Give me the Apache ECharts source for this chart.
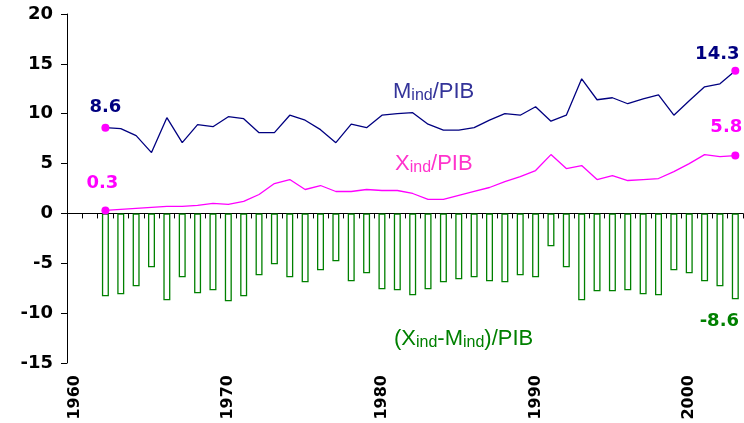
<!DOCTYPE html>
<html>
<head>
<meta charset="utf-8">
<script src="https://cdn.jsdelivr.net/npm/echarts@6/dist/echarts.min.js"></script>
<style>
  html, body { margin: 0; padding: 0; background: #ffffff; }
  #chart { width: 744px; height: 423px; }
</style>
</head>
<body>
<div id="chart"></div>
<script>
// Years on the category axis
const years = [
  '1960', '1961', '1962', '1963', '1964', '1965', '1966', '1967', '1968', '1969',
  '1970', '1971', '1972', '1973', '1974', '1975', '1976', '1977', '1978', '1979',
  '1980', '1981', '1982', '1983', '1984', '1985', '1986', '1987', '1988', '1989',
  '1990', '1991', '1992', '1993', '1994', '1995', '1996', '1997', '1998', '1999',
  '2000', '2001', '2002', '2003'
];

// Industrial imports / GDP (%), 1962-2003
const importsShare = [
  null, null,
  8.6, 8.5, 7.8, 6.1, 9.6, 7.1, 8.9, 8.7, 9.7, 9.5,
  8.1, 8.1, 9.85, 9.35, 8.4, 7.1, 8.95, 8.6, 9.85, 10.0,
  10.1, 8.95, 8.35, 8.35, 8.6, 9.35, 10.0, 9.85, 10.7, 9.25,
  9.85, 13.5, 11.4, 11.6, 11.0, 11.5, 11.9, 9.85, 11.3, 12.7,
  13.0, 14.3
];

// Industrial exports / GDP (%), 1962-2003
const exportsShare = [
  null, null,
  0.3, 0.4, 0.5, 0.6, 0.7, 0.7, 0.8, 1.0, 0.9, 1.2,
  1.9, 3.0, 3.4, 2.4, 2.8, 2.2, 2.2, 2.4, 2.3, 2.3,
  2.0, 1.4, 1.4, 1.8, 2.2, 2.6, 3.2, 3.7, 4.3, 5.9,
  4.5, 4.8, 3.4, 3.8, 3.3, 3.4, 3.5, 4.2, 5.0, 5.9,
  5.7, 5.8
];

// Industrial trade balance / GDP (%), 1962-2003
const balanceShare = [
  null, null,
  -8.3, -8.1, -7.3, -5.4, -8.7, -6.4, -8.0, -7.7, -8.8, -8.3,
  -6.2, -5.1, -6.4, -6.9, -5.7, -4.8, -6.8, -6.0, -7.6, -7.7,
  -8.2, -7.6, -6.9, -6.6, -6.4, -6.8, -6.9, -6.2, -6.4, -3.3,
  -5.4, -8.7, -7.8, -7.8, -7.7, -8.1, -8.2, -5.7, -6.0, -6.8,
  -7.3, -8.6
];

// Value axis ticks
const yMin = -15, yMax = 20, yStep = 5;

const NAVY = '#000080';
const MAGENTA = '#FF00FF';
const GREEN = '#008000';
const labelFont = { fontFamily: 'DejaVu Sans', fontWeight: 'bold', fontSize: 18 };

// Mark the first and last observation of a line with a dot and its value
function endpointData(values, color, firstLabel, lastLabel) {
  const first = values.findIndex(v => v != null);
  const last = values.length - 1;
  return values.map((v, i) => {
    if (i === first || i === last) {
      const cfg = i === first ? firstLabel : lastLabel;
      return {
        value: v,
        symbolSize: 8,
        label: Object.assign({
          show: true,
          position: 'top',
          color: color,
          formatter: p => p.value.toFixed(1)
        }, labelFont, cfg)
      };
    }
    return { value: v, symbolSize: 0 };
  });
}

// Only the last bar carries a value label
const balanceData = balanceShare.map((v, i) => {
  if (i === balanceShare.length - 1) {
    return {
      value: v,
      label: Object.assign({
        show: true,
        position: 'bottom',
        distance: 13,
        offset: [-16, 0],
        color: GREEN,
        formatter: p => p.value.toFixed(1)
      }, labelFont)
    };
  }
  return v;
});

// Rich-text name with an "ind" subscript
function subRich(color) {
  return {
    m: { fontFamily: 'Liberation Sans', fontSize: 22, lineHeight: 24, fill: color, color: color },
    s: { fontFamily: 'Liberation Sans', fontSize: 16, lineHeight: 8, verticalAlign: 'bottom', fill: color, color: color }
  };
}

const chart = echarts.init(document.getElementById('chart'), null, { renderer: 'canvas' });

chart.setOption({
  animation: false,
  backgroundColor: '#ffffff',
  grid: { left: 67, right: 1, top: 14, bottom: 60 },
  xAxis: [
    {
      type: 'category',
      data: years,
      position: 'bottom',
      boundaryGap: true,
      axisLine: { show: false, onZero: false },
      axisTick: { show: false },
      axisLabel: {
        interval: 9,
        rotate: 90,
        margin: 12,
        color: '#000000',
        fontFamily: 'DejaVu Sans',
        fontWeight: 'bold',
        fontSize: 16
      },
      splitLine: { show: false }
    },
    {
      type: 'category',
      data: years,
      position: 'bottom',
      boundaryGap: true,
      axisLine: { show: true, onZero: true, lineStyle: { color: '#000000', width: 1 } },
      axisTick: { show: true, interval: 0, length: 5, lineStyle: { color: '#000000', width: 1 } },
      axisLabel: { show: false },
      splitLine: { show: false }
    }
  ],
  yAxis: {
    type: 'value',
    min: yMin,
    max: yMax,
    interval: yStep,
    axisLine: { show: true, lineStyle: { color: '#000000', width: 1 } },
    axisTick: { show: true, length: 6, lineStyle: { color: '#000000' } },
    axisLabel: {
      margin: 14,
      color: '#000000',
      fontFamily: 'DejaVu Sans',
      fontWeight: 'bold',
      fontSize: 18
    },
    splitLine: { show: false }
  },
  series: [
    {
      name: '(Xind-Mind)/PIB',
      type: 'bar',
      xAxisIndex: 0,
      data: balanceData,
      barWidth: 7,
      itemStyle: { color: '#ffffff', borderColor: GREEN, borderWidth: 1.3 },
      z: 2
    },
    {
      name: 'Mind/PIB',
      type: 'line',
      xAxisIndex: 0,
      data: endpointData(importsShare, NAVY,
        { distance: 7, offset: [0, 0] },
        { distance: 4, offset: [-18, 0] }),
      symbol: 'circle',
      showAllSymbol: true,
      connectNulls: false,
      lineStyle: { color: NAVY, width: 1.3 },
      itemStyle: { color: MAGENTA },
      z: 4
    },
    {
      name: 'Xind/PIB',
      type: 'line',
      xAxisIndex: 0,
      data: endpointData(exportsShare, MAGENTA,
        { distance: 14, offset: [-3, 0] },
        { distance: 15, offset: [-9, 0] }),
      symbol: 'circle',
      showAllSymbol: true,
      lineStyle: { color: MAGENTA, width: 1.3 },
      itemStyle: { color: MAGENTA },
      z: 4
    }
  ],
  graphic: [
    {
      type: 'text',
      left: 393,
      top: 81,
      style: { text: '{m|M}{s|ind}{m|/PIB}', rich: subRich('#333399') }
    },
    {
      type: 'text',
      left: 395,
      top: 153,
      style: { text: '{m|X}{s|ind}{m|/PIB}', rich: subRich('#FF33CC') }
    },
    {
      type: 'text',
      left: 394,
      top: 328,
      style: { text: '{m|(X}{s|ind}{m|-M}{s|ind}{m|)/PIB}', rich: subRich(GREEN) }
    }
  ]
});
</script>
</body>
</html>
